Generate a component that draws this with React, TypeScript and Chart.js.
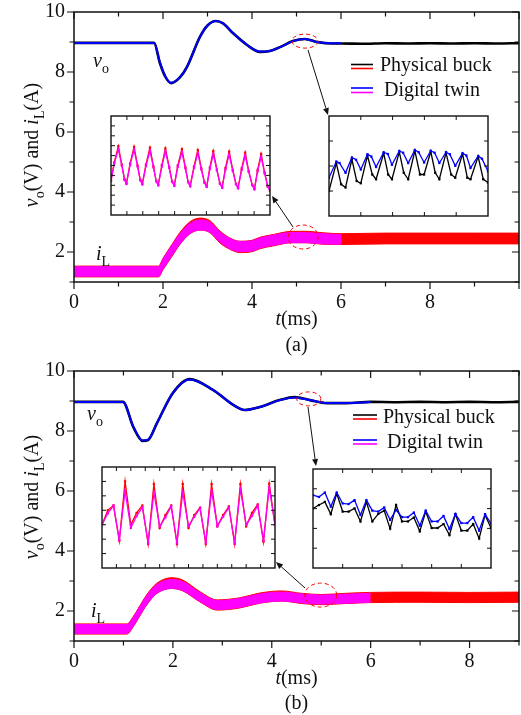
import React, { useEffect, useRef } from 'react';
import { Chart, registerables } from 'chart.js';
Chart.register(...registerables);

const FONT = "'Liberation Serif', 'Times New Roman', Times, serif";
const BLACK = '#000000';
const BLUE = '#0000ff';
const RED = '#ff0000';
const MAGENTA = '#ff00ff';

// ---------------- (a) main waveforms ----------------
const voA_t = [0, 1.8, 1.93, 2.05, 2.18, 2.38, 2.54, 2.83, 3.0, 3.19, 3.35, 3.57, 3.89, 4.18, 4.4, 4.63, 4.92, 5.19, 5.46, 5.8, 6.0, 6.5, 7.0, 7.5, 8.0, 8.5, 9.0, 9.5, 10.0];
const voA_phys = [8.97, 8.97, 8.3, 7.85, 7.63, 7.82, 8.17, 9.17, 9.55, 9.7, 9.62, 9.3, 8.9, 8.67, 8.7, 8.83, 9.03, 9.1, 9.0, 8.95, 8.95, 8.94, 8.96, 8.95, 8.96, 8.95, 8.96, 8.95, 8.96];
const voA_twinT = [0, 1.8, 1.93, 2.05, 2.18, 2.38, 2.54, 2.83, 3.0, 3.19, 3.35, 3.57, 3.89, 4.18, 4.4, 4.63, 4.92, 5.19, 5.46, 5.8, 6.0];
const voA_twin = [8.97, 8.97, 8.32, 7.86, 7.64, 7.83, 8.18, 9.17, 9.55, 9.7, 9.62, 9.3, 8.9, 8.68, 8.7, 8.83, 9.03, 9.1, 9.0, 8.96, 8.96];

const iLA_t = [0, 1.9, 2.0, 2.2, 2.38, 2.6, 2.83, 3.05, 3.28, 3.5, 3.73, 4.0, 4.18, 4.5, 4.9, 5.2, 5.6, 6.0, 7.0, 8.0, 9.0, 10.0];
const iLA_phys = [1.35, 1.35, 1.6, 2.05, 2.45, 2.8, 2.93, 2.85, 2.5, 2.28, 2.17, 2.2, 2.3, 2.4, 2.5, 2.5, 2.45, 2.43, 2.45, 2.45, 2.45, 2.45];
const iLA_physRipple = [0.18, 0.18, 0.19, 0.2, 0.2, 0.2, 0.2, 0.2, 0.2, 0.19, 0.19, 0.19, 0.19, 0.19, 0.19, 0.19, 0.19, 0.18, 0.18, 0.18, 0.18, 0.18];
const iLA_twinT = [0, 1.9, 2.0, 2.2, 2.38, 2.6, 2.83, 3.05, 3.28, 3.5, 3.73, 4.0, 4.18, 4.5, 4.9, 5.2, 5.6, 6.0];
const iLA_twin = [1.35, 1.35, 1.6, 2.05, 2.44, 2.78, 2.9, 2.83, 2.5, 2.28, 2.18, 2.2, 2.3, 2.4, 2.48, 2.48, 2.44, 2.42];
const iLA_twinRipple = [0.16, 0.16, 0.17, 0.17, 0.17, 0.17, 0.17, 0.17, 0.17, 0.17, 0.17, 0.17, 0.17, 0.17, 0.17, 0.17, 0.17, 0.16];

// ---------------- (b) main waveforms ----------------
const voB_t = [0, 0.99, 1.2, 1.39, 1.5, 1.68, 2.0, 2.34, 2.81, 3.22, 3.45, 3.76, 4.16, 4.46, 4.77, 5.11, 5.5, 6.0, 6.5, 7.0, 7.5, 8.0, 8.5, 9.0];
const voB_phys = [8.97, 8.97, 8.13, 7.67, 7.7, 8.27, 9.27, 9.73, 9.37, 8.87, 8.7, 8.8, 9.03, 9.13, 9.03, 8.93, 8.93, 8.97, 8.96, 8.97, 8.96, 8.97, 8.96, 8.97];
const voB_twinT = [0, 0.99, 1.2, 1.39, 1.5, 1.68, 2.0, 2.34, 2.81, 3.22, 3.45, 3.76, 4.16, 4.46, 4.77, 5.11, 5.5, 6.0];
const voB_twin = [8.97, 8.97, 8.14, 7.68, 7.71, 8.27, 9.27, 9.72, 9.37, 8.87, 8.7, 8.8, 9.03, 9.12, 9.03, 8.93, 8.93, 8.97];

const iLB_t = [0, 1.07, 1.2, 1.33, 1.47, 1.67, 1.98, 2.2, 2.55, 2.9, 3.35, 3.76, 4.2, 4.6, 5.0, 5.5, 6.0, 7.0, 8.0, 9.0];
const iLB_phys = [1.4, 1.4, 1.65, 2.0, 2.37, 2.75, 2.93, 2.85, 2.47, 2.2, 2.27, 2.43, 2.5, 2.42, 2.38, 2.42, 2.45, 2.46, 2.45, 2.46];
const iLB_physRipple = [0.17, 0.17, 0.17, 0.17, 0.17, 0.17, 0.18, 0.18, 0.17, 0.17, 0.17, 0.17, 0.17, 0.17, 0.17, 0.17, 0.17, 0.17, 0.17, 0.17];
const iLB_twinT = [0, 1.07, 1.2, 1.33, 1.47, 1.67, 1.98, 2.2, 2.55, 2.9, 3.35, 3.76, 4.2, 4.6, 5.0, 5.5, 6.0];
const iLB_twin = [1.4, 1.4, 1.65, 2.0, 2.36, 2.73, 2.9, 2.83, 2.46, 2.2, 2.27, 2.42, 2.48, 2.42, 2.38, 2.41, 2.44];
const iLB_twinRipple = [0.15, 0.15, 0.15, 0.15, 0.15, 0.15, 0.15, 0.15, 0.15, 0.15, 0.15, 0.15, 0.15, 0.15, 0.15, 0.15, 0.15];

// ---------------- insets ----------------
// (a) inductor-current zoom
const insAL_x = [0, 0.2, 0.46, 0.68, 0.85, 0.97, 1.2, 1.45, 1.67, 1.84, 1.97, 2.2, 2.45, 2.67, 2.84, 2.97, 3.2, 3.42, 3.66, 3.84, 3.98, 4.2, 4.46, 4.68, 4.85, 4.98, 5.22, 5.46, 5.68, 5.88, 6.02, 6.22, 6.43, 6.66, 6.85, 6.99, 7.2, 7.43, 7.66, 7.86, 7.99, 8.22, 8.44, 8.66, 8.88, 9.02, 9.22, 9.44, 9.66, 9.86, 10.0];
const insAL_phys = [3.5, 5.3, 6.95, 5.1, 3.6, 3.2, 5.2, 6.88, 5.0, 3.55, 3.15, 5.1, 6.8, 4.9, 3.45, 3.05, 5.05, 6.72, 4.85, 3.4, 3.0, 5.0, 6.65, 4.8, 3.35, 2.95, 4.9, 6.55, 4.7, 3.3, 2.9, 4.8, 6.46, 4.6, 3.2, 2.8, 4.75, 6.4, 4.55, 3.15, 2.75, 4.7, 6.3, 4.45, 3.05, 2.65, 4.55, 6.17, 4.3, 2.9, 2.5];
const insAL_twin = [3.45, 5.15, 6.65, 5.0, 3.55, 3.15, 5.05, 6.6, 4.9, 3.5, 3.1, 4.95, 6.5, 4.8, 3.4, 3.0, 4.9, 6.42, 4.75, 3.35, 2.95, 4.85, 6.35, 4.7, 3.3, 2.9, 4.75, 6.25, 4.6, 3.25, 2.85, 4.65, 6.16, 4.5, 3.15, 2.75, 4.6, 6.1, 4.45, 3.1, 2.7, 4.55, 6.0, 4.35, 3.0, 2.6, 4.4, 5.87, 4.2, 2.85, 2.45];
// (a) output-voltage zoom
const insAR_twinX = [0, 0.23, 0.33, 0.52, 0.72, 0.85, 1.0, 1.21, 1.33, 1.48, 1.72, 1.85, 1.98, 2.21, 2.33, 2.49, 2.7, 2.82, 2.99, 3.2, 3.32, 3.47, 3.68, 3.8, 3.97, 4.2, 4.32, 4.45, 4.69, 4.81, 5.0];
const insAR_twin = [1.53, 2.18, 2.12, 1.73, 2.34, 2.25, 1.86, 2.47, 2.38, 1.96, 2.55, 2.48, 2.05, 2.6, 2.53, 2.12, 2.64, 2.55, 2.14, 2.61, 2.53, 2.12, 2.55, 2.47, 2.01, 2.51, 2.42, 1.92, 2.4, 2.29, 1.79];
const insAR_physX = [0, 0.23, 0.38, 0.52, 0.72, 0.87, 1.0, 1.21, 1.36, 1.48, 1.72, 1.86, 1.98, 2.21, 2.35, 2.49, 2.7, 2.86, 2.99, 3.2, 3.34, 3.47, 3.68, 3.84, 3.97, 4.2, 4.35, 4.45, 4.69, 4.85, 5.0];
const insAR_phys = [1.01, 2.12, 1.27, 1.14, 2.27, 1.4, 1.31, 2.42, 1.66, 1.47, 2.51, 1.66, 1.47, 2.57, 1.73, 1.47, 2.61, 1.66, 1.66, 2.58, 1.73, 1.47, 2.53, 1.66, 1.53, 2.48, 1.53, 1.47, 2.38, 1.47, 1.34];
// (b) inductor-current zoom
const insBL_x = [0, 0.4, 0.8, 1.2, 1.6, 2.0, 2.4, 2.8, 3.2, 3.6, 4.0, 4.4, 4.8, 5.2, 5.6, 6.0, 6.4, 6.8, 7.2, 7.6, 8.0, 8.4, 8.8, 9.2, 9.6, 10.0, 10.4, 10.8, 11.2, 11.6, 12.0];
const insBL_phys = [3.0, 4.0, 4.33, 1.89, 6.0, 3.0, 3.82, 4.33, 1.67, 5.82, 2.78, 3.67, 4.33, 1.67, 5.82, 2.78, 3.67, 4.18, 1.67, 5.82, 2.89, 3.67, 4.27, 1.67, 5.82, 2.89, 3.82, 4.4, 1.82, 5.84, 2.99];
const insBL_twin = [3.0, 3.78, 4.33, 1.95, 5.33, 2.78, 3.6, 4.2, 1.78, 5.22, 2.9, 3.5, 4.27, 1.78, 5.22, 2.9, 3.55, 4.15, 1.78, 5.33, 2.9, 3.55, 4.2, 1.78, 5.44, 3.0, 3.6, 4.33, 1.9, 5.56, 2.99];
// (b) output-voltage zoom
const insBR_x = [0, 0.2, 0.4, 0.6, 0.8, 1.0, 1.2, 1.4, 1.6, 1.8, 2.0, 2.2, 2.4, 2.6, 2.8, 3.0, 3.2, 3.4, 3.6, 3.8, 4.0, 4.2, 4.4, 4.6, 4.8, 5.0, 5.2, 5.4, 5.6, 5.8, 6.0];
const insBR_twin = [3.68, 3.59, 3.81, 3.1, 3.81, 3.26, 3.23, 3.43, 2.68, 3.43, 2.9, 2.85, 3.06, 2.43, 2.93, 2.57, 2.57, 2.8, 2.14, 2.9, 2.35, 2.35, 2.63, 1.97, 2.73, 2.27, 2.27, 2.57, 1.89, 2.72, 2.24];
const insBR_phys = [3.01, 3.18, 3.34, 2.72, 3.76, 2.85, 2.85, 3.01, 2.35, 3.34, 2.35, 2.73, 2.9, 1.99, 3.18, 2.35, 2.35, 2.55, 1.85, 2.85, 2.02, 2.02, 2.22, 1.66, 2.72, 1.89, 1.89, 2.22, 1.49, 2.68, 2.02];

// ---------------- helpers ----------------
const pts = (xs: number[], ys: number[]) => xs.map((x, i) => ({ x, y: ys[i] }));
const bandPts = (xs: number[], c: number[], r: number[], s: number) => xs.map((x, i) => ({ x, y: c[i] + s * r[i] }));

type Part = { t: string; it?: boolean; sub?: boolean };
function drawRich(ctx: CanvasRenderingContext2D, parts: Part[], x: number, y: number, size: number, center: boolean, rotate = false) {
  ctx.save();
  ctx.translate(x, y);
  if (rotate) ctx.rotate(-Math.PI / 2);
  const f = (p: Part) => `${p.it ? 'italic ' : ''}${p.sub ? Math.round(size * 0.7) : size}px ${FONT}`;
  let total = 0;
  for (const p of parts) { ctx.font = f(p); total += ctx.measureText(p.t).width; }
  let cx = center ? -total / 2 : 0;
  ctx.textBaseline = 'alphabetic';
  ctx.textAlign = 'left';
  ctx.fillStyle = '#111';
  for (const p of parts) {
    ctx.font = f(p);
    ctx.fillText(p.t, cx, p.sub ? size * 0.28 : 0);
    cx += ctx.measureText(p.t).width;
  }
  ctx.restore();
}

function arrow(ctx: CanvasRenderingContext2D, x1: number, y1: number, x2: number, y2: number) {
  const a = Math.atan2(y2 - y1, x2 - x1);
  const L = 7, W = 3;
  ctx.save();
  ctx.strokeStyle = '#111';
  ctx.fillStyle = '#111';
  ctx.lineWidth = 1;
  ctx.beginPath();
  ctx.moveTo(x1, y1);
  ctx.lineTo(x2 - L * Math.cos(a), y2 - L * Math.sin(a));
  ctx.stroke();
  ctx.beginPath();
  ctx.moveTo(x2, y2);
  ctx.lineTo(x2 - L * Math.cos(a) + W * Math.sin(a), y2 - L * Math.sin(a) - W * Math.cos(a));
  ctx.lineTo(x2 - L * Math.cos(a) - W * Math.sin(a), y2 - L * Math.sin(a) + W * Math.cos(a));
  ctx.closePath();
  ctx.fill();
  ctx.restore();
}

type MainCfg = {
  H: number; top: number; bottom: number; xMax: number;
  voT: number[]; voP: number[]; voTwT: number[]; voTw: number[];
  iT: number[]; iP: number[]; iPr: number[]; iTwT: number[]; iTw: number[]; iTwr: number[];
  ellipses: { x: number; y: number; rx: number; ry: number }[];
  arrows: number[][];
  voLabel: [number, number]; iLabel: [number, number];
  legend: { lx1: number; lx2: number; y1: number; y2: number; tx: number; ty: number; c1: string; c2: string; text: string }[];
  yTitleY: number; xTitleY: number; subY: number; sub: string;
};

const zeroPad = (s: any) => { s.paddingTop = 0; s.paddingBottom = 0; s.paddingLeft = 0; s.paddingRight = 0; };

function makeMain(canvas: HTMLCanvasElement, c: MainCfg) {
  const plugin = {
    id: 'mainDeco',
    afterDraw(chart: any) {
      const ctx: CanvasRenderingContext2D = chart.ctx;
      const { left, right, top, bottom } = chart.chartArea;
      const xs = chart.scales.x, ys = chart.scales.y;
      ctx.save();
      ctx.strokeStyle = '#111';
      ctx.lineWidth = 1.5;
      ctx.strokeRect(left, top, right - left, bottom - top);
      ctx.lineWidth = 1.2;
      ctx.beginPath();
      for (let v = 0; v <= c.xMax; v++) {
        const p = xs.getPixelForValue(v);
        const len = v % 2 === 0 ? 7 : 4.5;
        ctx.moveTo(p, bottom); ctx.lineTo(p, bottom + len);
        ctx.moveTo(p, top); ctx.lineTo(p, top + len);
      }
      for (let v = 1; v <= 10; v++) {
        const p = ys.getPixelForValue(v);
        const len = v % 2 === 0 ? 7 : 4.5;
        ctx.moveTo(left, p); ctx.lineTo(left - len, p);
        ctx.moveTo(right, p); ctx.lineTo(right - len, p);
      }
      ctx.stroke();

      // dashed ellipses
      ctx.strokeStyle = RED;
      ctx.lineWidth = 1;
      ctx.setLineDash([4, 3]);
      for (const e of c.ellipses) {
        ctx.beginPath();
        ctx.ellipse(xs.getPixelForValue(e.x), ys.getPixelForValue(e.y), e.rx, e.ry, 0, 0, Math.PI * 2);
        ctx.stroke();
      }
      ctx.setLineDash([]);
      ctx.restore();

      for (const a of c.arrows) arrow(ctx, a[0], a[1], a[2], a[3]);

      // curve labels
      drawRich(ctx, [{ t: 'v', it: true }, { t: 'o', sub: true }], c.voLabel[0], c.voLabel[1], 20, false);
      drawRich(ctx, [{ t: 'i', it: true }, { t: 'L', sub: true }], c.iLabel[0], c.iLabel[1], 20, false);

      // legend
      ctx.save();
      for (const l of c.legend) {
        ctx.lineWidth = 1.6;
        ctx.strokeStyle = l.c1;
        ctx.beginPath(); ctx.moveTo(l.lx1, l.y1); ctx.lineTo(l.lx2, l.y1); ctx.stroke();
        ctx.strokeStyle = l.c2;
        ctx.beginPath(); ctx.moveTo(l.lx1, l.y2); ctx.lineTo(l.lx2, l.y2); ctx.stroke();
        ctx.font = `20px ${FONT}`;
        ctx.fillStyle = '#111';
        ctx.textBaseline = 'alphabetic';
        ctx.textAlign = 'left';
        ctx.fillText(l.text, l.tx, l.ty);
      }
      ctx.restore();

      // axis titles
      drawRich(ctx, [{ t: 'v', it: true }, { t: 'o', sub: true }, { t: '(V) and ' }, { t: 'i', it: true }, { t: 'L', sub: true }, { t: '(A)' }], 38, c.yTitleY, 20, true, true);
      const cxp = (left + right) / 2;
      drawRich(ctx, [{ t: 't', it: true }, { t: '(ms)' }], cxp, c.xTitleY, 20, true);
      drawRich(ctx, [{ t: c.sub }], cxp, c.subY, 20, true);
    },
  };

  const lineBase = { pointRadius: 0, cubicInterpolationMode: 'monotone' as const, fill: false };
  return new Chart(canvas, {
    type: 'line',
    data: {
      datasets: [
        { ...lineBase, data: pts(c.voTwT, c.voTw), borderColor: BLUE, borderWidth: 2, order: 0 },
        { ...lineBase, data: pts(c.voT, c.voP), borderColor: BLACK, borderWidth: 2.6, order: 1 },
        { ...lineBase, data: bandPts(c.iTwT, c.iTw, c.iTwr, 1), borderColor: MAGENTA, borderWidth: 1, order: 2 },
        { ...lineBase, data: bandPts(c.iTwT, c.iTw, c.iTwr, -1), borderColor: MAGENTA, borderWidth: 1, fill: '-1', backgroundColor: MAGENTA, order: 3 },
        { ...lineBase, data: bandPts(c.iT, c.iP, c.iPr, 1), borderColor: RED, borderWidth: 1, order: 4 },
        { ...lineBase, data: bandPts(c.iT, c.iP, c.iPr, -1), borderColor: RED, borderWidth: 1, fill: '-1', backgroundColor: RED, order: 5 },
      ] as any,
    },
    options: {
      responsive: false,
      animation: false,
      devicePixelRatio: 1,
      events: [],
      layout: { padding: { left: 0, right: 2, top: c.top, bottom: 0 }, autoPadding: false },
      plugins: { legend: { display: false }, tooltip: { enabled: false } },
      scales: {
        x: {
          type: 'linear', min: 0, max: c.xMax,
          grid: { display: false, drawTicks: false },
          border: { display: false },
          ticks: {
            stepSize: 1, autoSkip: false, maxRotation: 0, padding: 9,
            font: { family: FONT, size: 20 }, color: '#111',
            callback: (v: any) => (v % 2 === 0 && v < 10 ? String(v) : ''),
          },
          afterFit: (s: any) => { s.height = c.H - c.bottom; zeroPad(s); },
        },
        y: {
          type: 'linear', min: 1, max: 10,
          grid: { display: false, drawTicks: false },
          border: { display: false },
          ticks: {
            stepSize: 1, autoSkip: false, padding: 9,
            font: { family: FONT, size: 20 }, color: '#111',
            callback: (v: any) => (v % 2 === 0 ? String(v) : ''),
          },
          afterFit: (s: any) => { s.width = 74; zeroPad(s); },
        },
      },
    } as any,
    plugins: [plugin],
  });
}

type InsetCfg = {
  xMin: number; xMax: number; nx: number; yMin: number; yMax: number; ny: number;
  sets: { xs: number[]; ys: number[]; color: string }[];
};

function makeInset(canvas: HTMLCanvasElement, c: InsetCfg) {
  const plugin = {
    id: 'insetFrame',
    beforeDraw(chart: any) {
      const ctx = chart.ctx;
      const { left, right, top, bottom } = chart.chartArea;
      ctx.save();
      ctx.fillStyle = '#fff';
      ctx.fillRect(left, top, right - left, bottom - top);
      ctx.restore();
    },
    afterDraw(chart: any) {
      const ctx: CanvasRenderingContext2D = chart.ctx;
      const { left, right, top, bottom } = chart.chartArea;
      const xs = chart.scales.x, ys = chart.scales.y;
      ctx.save();
      ctx.strokeStyle = '#111';
      ctx.lineWidth = 1.4;
      ctx.strokeRect(left, top, right - left, bottom - top);
      ctx.lineWidth = 1;
      ctx.beginPath();
      for (let i = 1; i < c.nx; i++) {
        const p = xs.getPixelForValue(c.xMin + (i * (c.xMax - c.xMin)) / c.nx);
        ctx.moveTo(p, top); ctx.lineTo(p, top + 4);
        ctx.moveTo(p, bottom); ctx.lineTo(p, bottom - 4);
      }
      for (let i = 1; i < c.ny; i++) {
        const p = ys.getPixelForValue(c.yMin + (i * (c.yMax - c.yMin)) / c.ny);
        ctx.moveTo(left, p); ctx.lineTo(left + 4, p);
        ctx.moveTo(right, p); ctx.lineTo(right - 4, p);
      }
      ctx.stroke();
      ctx.restore();
    },
  };
  return new Chart(canvas, {
    type: 'line',
    data: {
      datasets: c.sets.map((s, i) => ({
        data: pts(s.xs, s.ys),
        borderColor: s.color,
        borderWidth: 1.3,
        pointStyle: 'rect',
        pointRadius: 1.6,
        pointBorderWidth: 0,
        pointBackgroundColor: s.color,
        tension: 0,
        fill: false,
        order: c.sets.length - i,
      })) as any,
    },
    options: {
      responsive: false,
      animation: false,
      devicePixelRatio: 1,
      events: [],
      layout: { padding: 3 },
      plugins: { legend: { display: false }, tooltip: { enabled: false } },
      scales: {
        x: { type: 'linear', display: false, min: c.xMin, max: c.xMax },
        y: { type: 'linear', display: false, min: c.yMin, max: c.yMax },
      },
    } as any,
    plugins: [plugin],
  });
}

const mainA: MainCfg = {
  H: 360, top: 12, bottom: 282, xMax: 10,
  voT: voA_t, voP: voA_phys, voTwT: voA_twinT, voTw: voA_twin,
  iT: iLA_t, iP: iLA_phys, iPr: iLA_physRipple, iTwT: iLA_twinT, iTw: iLA_twin, iTwr: iLA_twinRipple,
  ellipses: [{ x: 5.19, y: 9.03, rx: 13, ry: 7 }, { x: 5.15, y: 2.5, rx: 15, ry: 12 }],
  arrows: [[308, 50, 328, 115], [293, 227, 272, 196]],
  voLabel: [93, 67], iLabel: [96, 260],
  legend: [
    { lx1: 351, lx2: 373, y1: 64.5, y2: 68.5, tx: 380, ty: 71, c1: BLACK, c2: RED, text: 'Physical buck' },
    { lx1: 351, lx2: 373, y1: 88, y2: 92.5, tx: 384, ty: 96, c1: BLUE, c2: MAGENTA, text: 'Digital twin' },
  ],
  yTitleY: 145, xTitleY: 325, subY: 351, sub: '(a)',
};

const mainB: MainCfg = {
  H: 355, top: 11, bottom: 281, xMax: 9,
  voT: voB_t, voP: voB_phys, voTwT: voB_twinT, voTw: voB_twin,
  iT: iLB_t, iP: iLB_phys, iPr: iLB_physRipple, iTwT: iLB_twinT, iTw: iLB_twin, iTwr: iLB_twinRipple,
  ellipses: [{ x: 4.75, y: 9.07, rx: 12, ry: 7 }, { x: 4.99, y: 2.53, rx: 16, ry: 12 }],
  arrows: [[308, 47, 316, 106], [305, 228, 276, 202]],
  voLabel: [87, 60], iLabel: [91, 257],
  legend: [
    { lx1: 353, lx2: 377, y1: 55, y2: 59, tx: 383, ty: 63, c1: BLACK, c2: RED, text: 'Physical buck' },
    { lx1: 353, lx2: 377, y1: 80, y2: 84, tx: 387, ty: 88, c1: BLUE, c2: MAGENTA, text: 'Digital twin' },
  ],
  yTitleY: 137, xTitleY: 324, subY: 349, sub: '(b)',
};

const insets: { box: number[]; cfg: InsetCfg }[] = [
  { box: [110, 115, 161, 101], cfg: { xMin: 0, xMax: 10, nx: 10, yMin: 0, yMax: 10, ny: 10, sets: [{ xs: insAL_x, ys: insAL_phys, color: RED }, { xs: insAL_x, ys: insAL_twin, color: MAGENTA }] } },
  { box: [328, 115, 161, 102], cfg: { xMin: 0, xMax: 5, nx: 5, yMin: 0, yMax: 4, ny: 4, sets: [{ xs: insAR_physX, ys: insAR_phys, color: BLACK }, { xs: insAR_twinX, ys: insAR_twin, color: BLUE }] } },
  { box: [101, 466, 175, 103], cfg: { xMin: 0, xMax: 12, nx: 12, yMin: 0, yMax: 7, ny: 7, sets: [{ xs: insBL_x, ys: insBL_phys, color: RED }, { xs: insBL_x, ys: insBL_twin, color: MAGENTA }] } },
  { box: [312, 468, 180, 101], cfg: { xMin: 0, xMax: 6, nx: 6, yMin: 0, yMax: 5, ny: 5, sets: [{ xs: insBR_x, ys: insBR_phys, color: BLACK }, { xs: insBR_x, ys: insBR_twin, color: BLUE }] } },
];

export default function App() {
  const refA = useRef<HTMLCanvasElement>(null);
  const refB = useRef<HTMLCanvasElement>(null);
  const insetRefs = [useRef<HTMLCanvasElement>(null), useRef<HTMLCanvasElement>(null), useRef<HTMLCanvasElement>(null), useRef<HTMLCanvasElement>(null)];

  useEffect(() => {
    const charts: Chart[] = [];
    if (refA.current) charts.push(makeMain(refA.current, mainA));
    if (refB.current) charts.push(makeMain(refB.current, mainB));
    insets.forEach((ins, i) => {
      const cv = insetRefs[i].current;
      if (cv) charts.push(makeInset(cv, ins.cfg));
    });
    return () => charts.forEach((ch) => ch.destroy());
  }, []);

  return (
    <div style={{ position: 'absolute', left: 0, top: 0, width: 521, height: 715, background: '#fff', overflow: 'hidden' }}>
      <canvas ref={refA} width={521} height={360} style={{ position: 'absolute', left: 0, top: 0, width: 521, height: 360 }} />
      <canvas ref={refB} width={521} height={355} style={{ position: 'absolute', left: 0, top: 360, width: 521, height: 355 }} />
      {insets.map((ins, i) => (
        <canvas
          key={i}
          ref={insetRefs[i]}
          width={ins.box[2] + 6}
          height={ins.box[3] + 6}
          style={{ position: 'absolute', left: ins.box[0] - 3, top: ins.box[1] - 3, width: ins.box[2] + 6, height: ins.box[3] + 6 }}
        />
      ))}
    </div>
  );
}
